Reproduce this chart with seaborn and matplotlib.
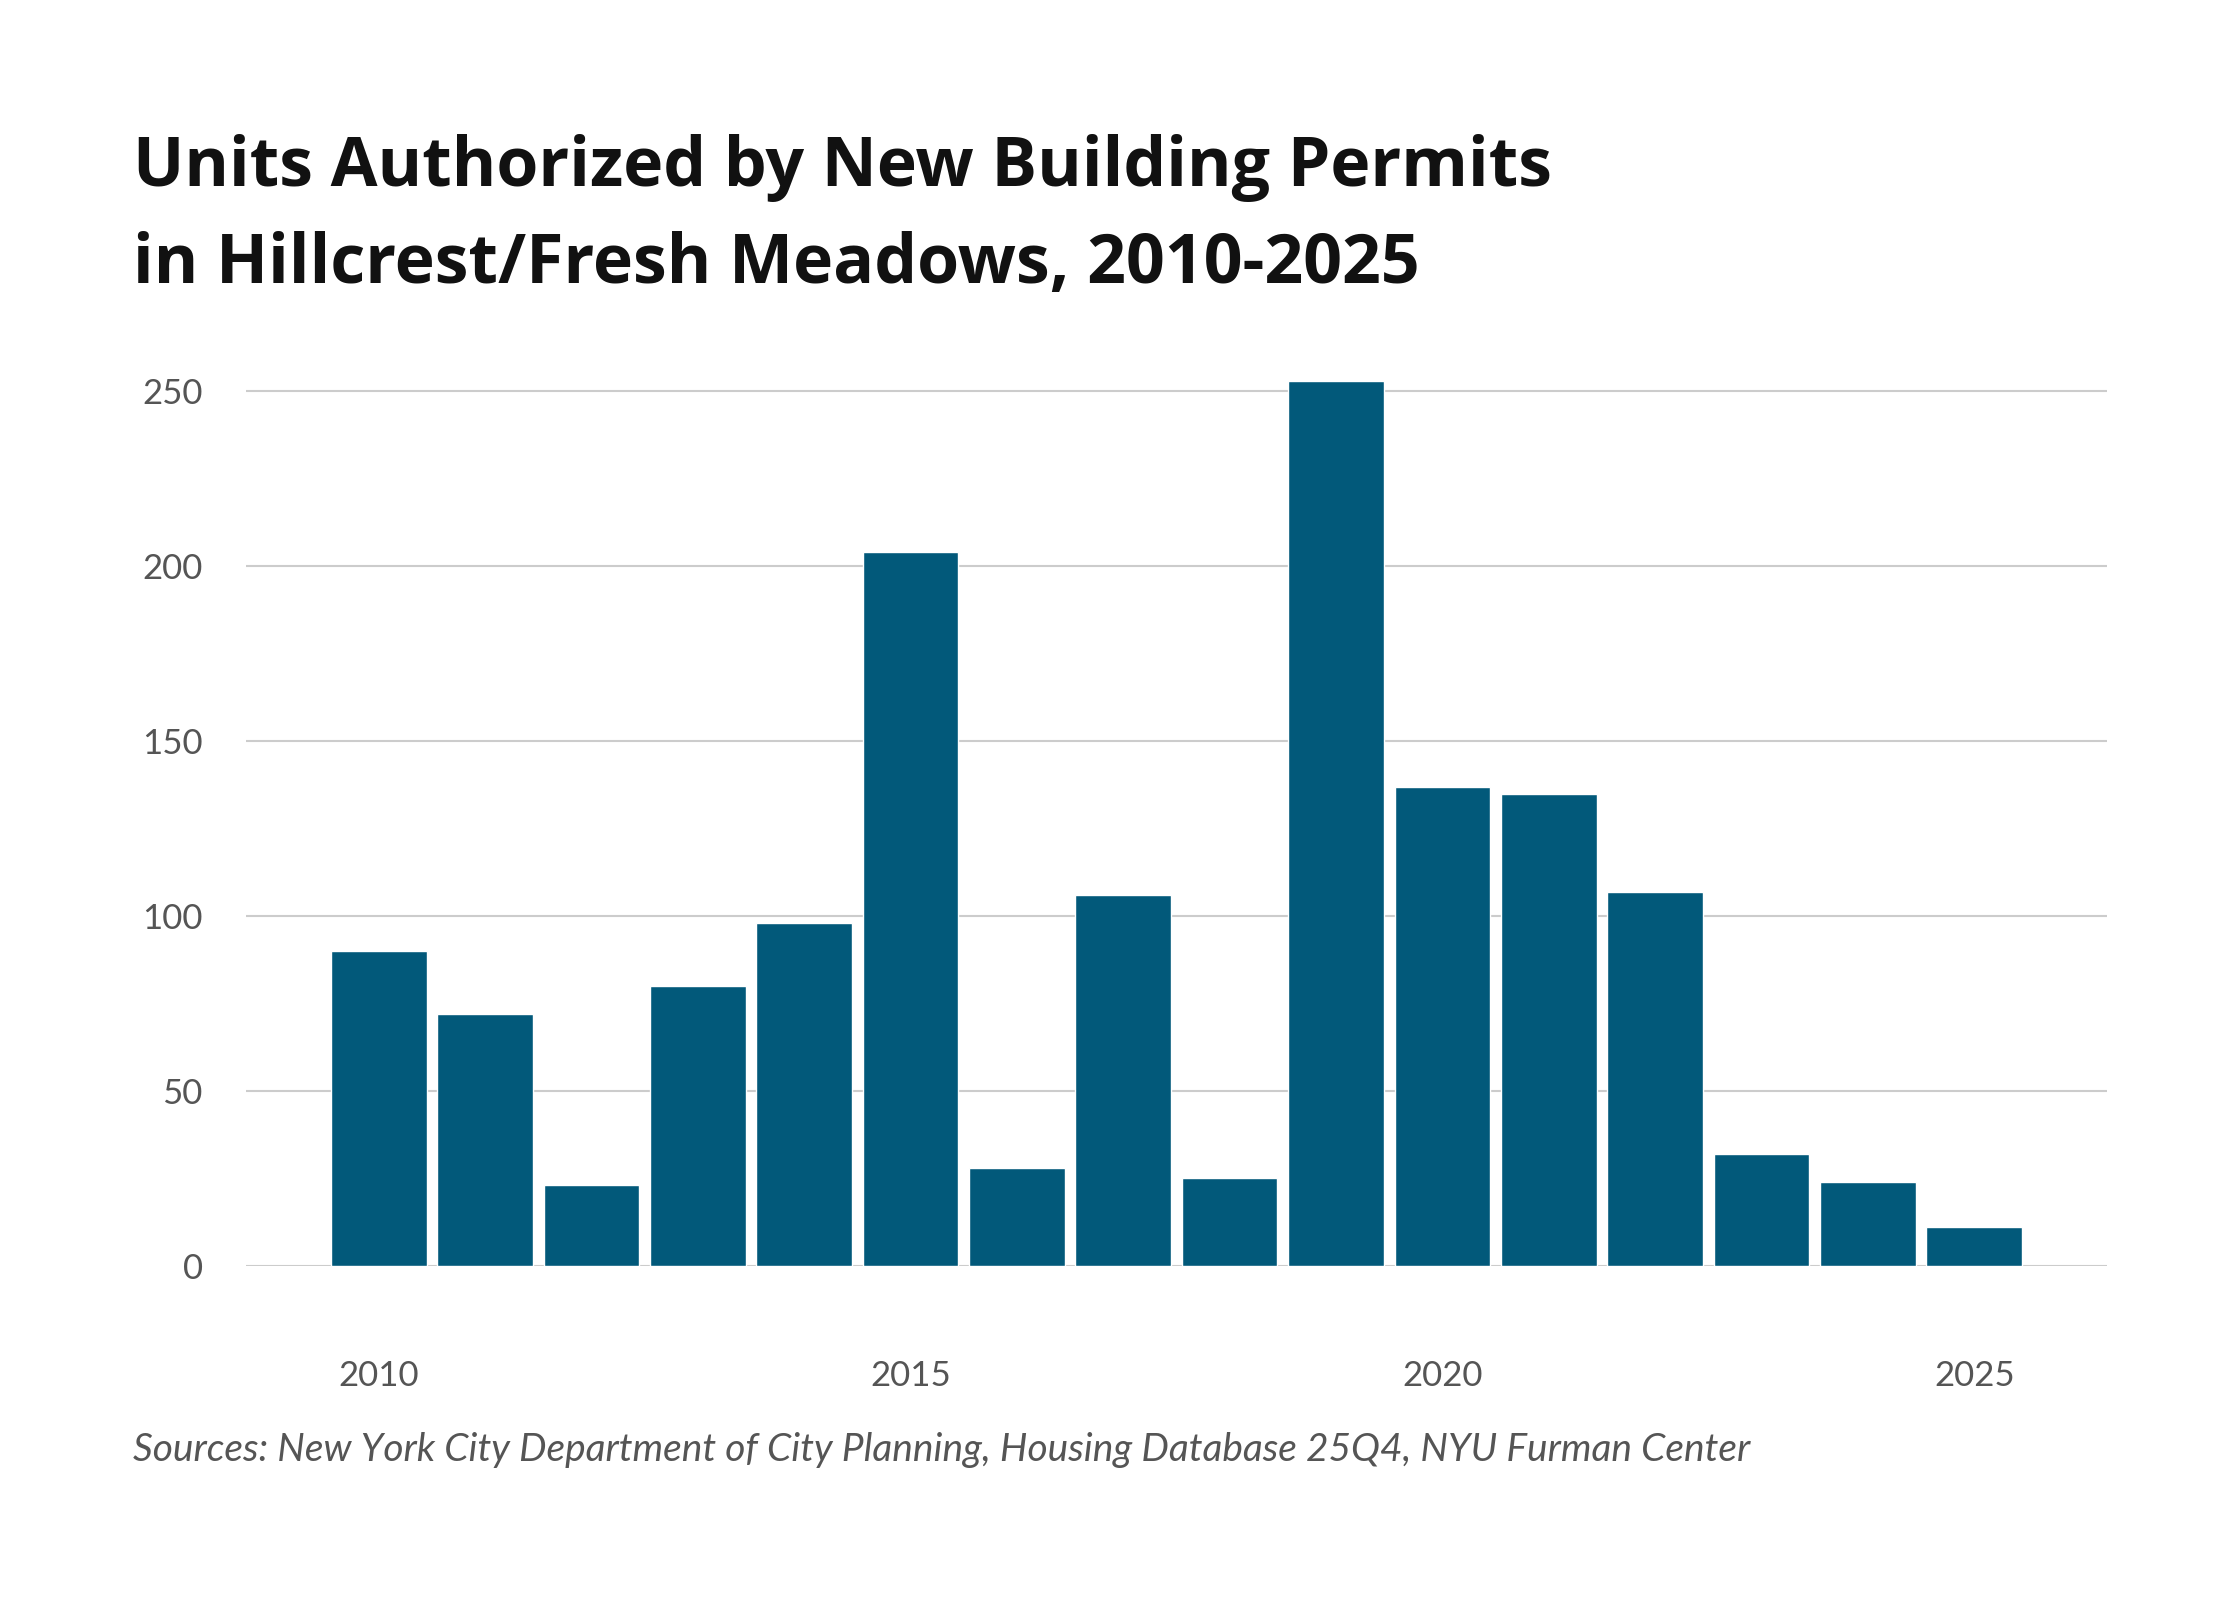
import pandas as pd
import matplotlib.pyplot as plt
import seaborn as sns

years = list(range(2010, 2026))
units = [90, 72, 23, 80, 98, 204, 28, 106, 25, 253, 137, 135, 107, 32, 24, 11]
tick_years = [2010, 2015, 2020, 2025]
y_ticks = [0, 50, 100, 150, 200, 250]

df = pd.DataFrame({"year": years, "units": units})

sns.set_theme(style="white")
plt.rcParams["font.family"] = ["Lato", "DejaVu Sans"]

fig = plt.figure(figsize=(22.4, 16), dpi=100)
ax = fig.add_axes([0.1097, 0.2089, 0.831, 0.5683])

sns.barplot(data=df, x="year", y="units", color="#02597a", width=0.9,
            saturation=1, ax=ax, zorder=3)

ax.set_ylim(0, 260)
ax.set_xlim(-1.25, 16.25)
ax.set_yticks(y_ticks)
ax.set_yticklabels([str(v) for v in y_ticks])
ax.set_xticks([years.index(y) for y in tick_years])
ax.set_xticklabels([str(y) for y in tick_years])
ax.grid(axis="y", color="#cccccc", linewidth=1.5, zorder=0)
ax.set_axisbelow(True)
for s in ax.spines.values():
    s.set_visible(False)
ax.set_xlabel("")
ax.set_ylabel("")
ax.tick_params(axis="y", length=0, pad=31, labelsize=25, labelcolor="#555555")
ax.tick_params(axis="x", length=0, pad=68, labelsize=25, labelcolor="#555555")

fig.text(0.0593, 0.916, "Units Authorized by New Building Permits\nin Hillcrest/Fresh Meadows, 2010-2025",
         ha="left", va="top", fontsize=49, fontweight="bold", color="#111111",
         linespacing=1.55, family=["Open Sans", "DejaVu Sans"])
fig.text(0.0593, 0.0938, "Sources: New York City Department of City Planning, Housing Database 25Q4, NYU Furman Center",
         ha="left", va="center", fontsize=28, fontstyle="italic", color="#555555")

fig.savefig("out.png", dpi=100)
